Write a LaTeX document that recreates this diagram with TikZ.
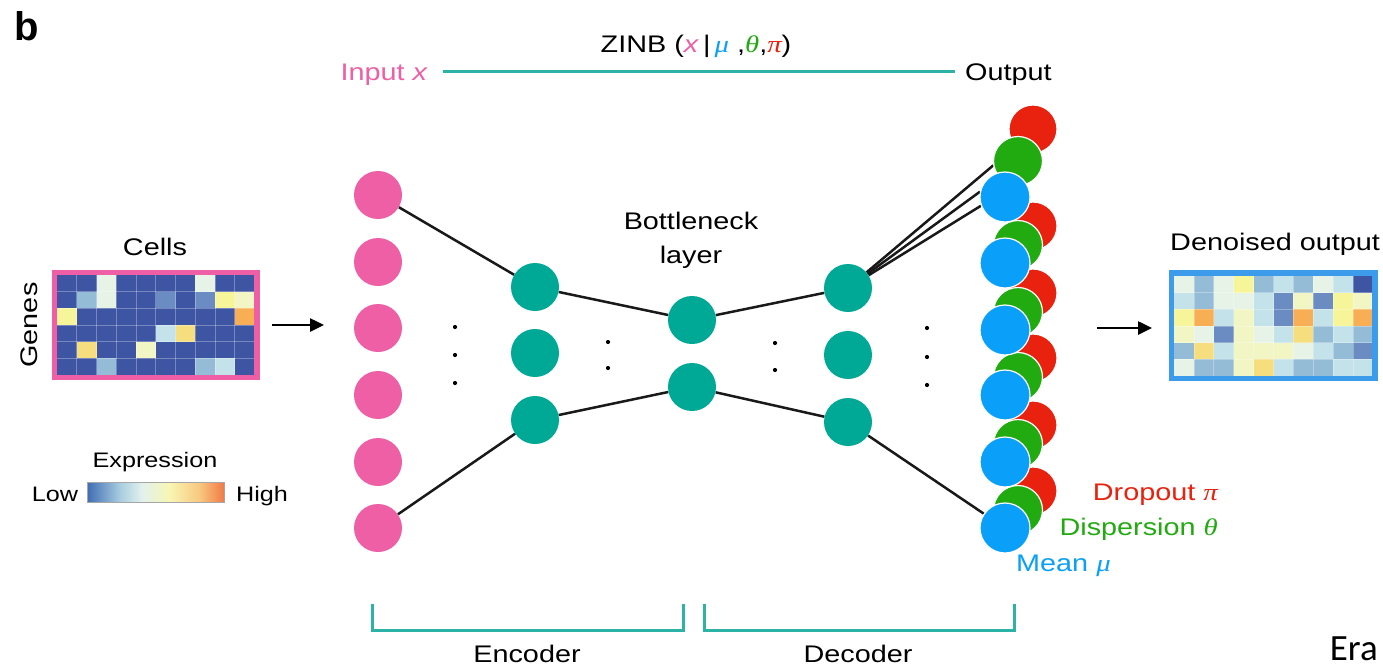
\documentclass[tikz,border=0pt]{standalone}
\usepackage{fontspec}
\setmainfont{Liberation Sans}[FakeStretch=1.2]
\newfontfamily\grk{Liberation Serif}[FakeStretch=1.2]
\newfontfamily\carl{Carlito}
\newfontfamily\boldsans{Liberation Sans Bold}
\usetikzlibrary{arrows.meta}
\newcommand{\myfs}[1]{\fontsize{#1}{#1}\selectfont}
\definecolor{cpink}{HTML}{EE5FA6}
\definecolor{cteal}{HTML}{00A896}
\definecolor{lteal}{HTML}{2DB3A6}
\definecolor{cred}{HTML}{E8220E}
\definecolor{cgreen}{HTML}{22AA11}
\definecolor{cblue}{HTML}{0AA0FA}
\definecolor{mapblue}{HTML}{3D9BEB}
\definecolor{hD}{HTML}{3D55A2}
\definecolor{hW}{HTML}{E6F3E6}
\definecolor{hL}{HTML}{95BCD6}
\definecolor{hM}{HTML}{6A8CC2}
\definecolor{hY}{HTML}{F7F59A}
\definecolor{hP}{HTML}{F2F5C4}
\definecolor{hO}{HTML}{F8AE55}
\definecolor{hC}{HTML}{C3E2EA}
\definecolor{hG}{HTML}{F6DE7E}
\definecolor{cb1}{HTML}{3F6CB3}
\definecolor{cb2}{HTML}{A8CCE0}
\definecolor{cb3}{HTML}{E2F1EE}
\definecolor{cb4}{HTML}{F8F6B4}
\definecolor{cb5}{HTML}{F8C880}
\definecolor{cb6}{HTML}{F27A45}
\pgfdeclarehorizontalshading{exprshade}{100bp}{color(0bp)=(cb1); color(25bp)=(cb1); color(37bp)=(cb2); color(45bp)=(cb3); color(55bp)=(cb4); color(66bp)=(cb5); color(75bp)=(cb6); color(100bp)=(cb6)}
\pgfdeclarelayer{bg}
\pgfdeclarelayer{paper}
\pgfsetlayers{paper,bg,main}
\tikzset{
  pinkc/.style={circle, fill=cpink, minimum size=48, inner sep=0},
  tealc/.style={circle, fill=cteal, minimum size=48, inner sep=0},
  outc/.style={circle, draw=white, line width=1.2, minimum size=50, inner sep=0},
  conn/.style={line width=2.5, black!90},
  lbl/.style={inner sep=0, font=\myfs{24}},
  brk/.style={lteal, line width=3},
  bigarrow/.style={line width=2.5, -{Triangle[length=14, width=13]}},
  gridl/.style={white, opacity=0.3, line width=0.7},
}
\begin{document}
\begin{tikzpicture}[x=1pt, y=-1pt]
\useasboundingbox (0,0) rectangle (1383,667);
\begin{pgfonlayer}{paper}
\fill[white] (0,0) rectangle (1383,667);
\end{pgfonlayer}

% panel letter
\node[inner sep=0, anchor=base west, font=\boldsans\myfs{40}] (panel) at (14,40) {b};

% ---------- input heatmap ----------
\foreach \row [count=\r from 0] in {{D,D,W,D,D,D,D,W,D,D},{D,L,W,D,D,M,D,M,Y,P},{Y,D,D,D,D,D,D,D,D,O},{D,D,D,D,D,C,G,D,D,D},{D,G,D,D,P,D,D,D,D,D},{D,D,L,D,D,D,D,L,C,D}}{
  \foreach \c [count=\k from 0] in \row {
    \fill[fill=h\c] ({57+19.75*\k},{275+16.67*\r}) rectangle ++(19.75,16.67);
  }
}
\foreach \k in {1,...,9} {\draw[gridl] ({57+19.75*\k},275) -- ++(0,100);}
\foreach \r in {1,...,5} {\draw[gridl] (57,{275+16.67*\r}) -- ++(197.5,0);}
\node[draw=cpink, line width=5.5, minimum width=202.5, minimum height=105, inner sep=0] (inmap) at (155.75,325) {};

\node[lbl, anchor=base] (cells) at (155,255) {Cells};
\node[lbl, anchor=base, rotate=90] (genes) at (37,325) {Genes};

% colour bar
\node[lbl, anchor=base, font=\myfs{21}] (expr) at (155,467) {Expression};
\shade[shading=exprshade] (87,482) rectangle (224,502);
\node[draw=black!35, line width=1, minimum width=137, minimum height=20, inner sep=0] (cbar) at (155.5,492) {};
\node[lbl, anchor=base, font=\myfs{21}] (low) at (55,501) {Low};
\node[lbl, anchor=base, font=\myfs{21}] (high) at (262,501) {High};

% arrows
\coordinate (a1s) at (272,325);
\coordinate (a1e) at (324,325);
\draw[bigarrow] (a1s) -- (a1e);
\coordinate (a2s) at (1097,328);
\coordinate (a2e) at (1152,328);
\draw[bigarrow] (a2s) -- (a2e);

% ---------- network ----------
\node[pinkc] (i1) at (378,195) {};
\node[pinkc] (i2) at (378,262) {};
\node[pinkc] (i3) at (378,328) {};
\node[pinkc] (i4) at (378,395) {};
\node[pinkc] (i5) at (378,462) {};
\node[pinkc] (i6) at (378,528) {};

\node[tealc] (e1) at (535,287) {};
\node[tealc] (e2) at (535,353) {};
\node[tealc] (e3) at (535,420) {};

\node[tealc] (bn1) at (692,320) {};
\node[tealc] (bn2) at (692,387) {};

\node[tealc] (dt1) at (848,288) {};
\node[tealc] (dt2) at (848,355) {};
\node[tealc] (dt3) at (848,422) {};

% output nodes: reds, greens, blues
\node[outc, fill=cred, minimum size=48] (r1) at (1033,129) {};
\node[outc, fill=cred, minimum size=48] (r2) at (1033,226) {};
\node[outc, fill=cred, minimum size=48] (r3) at (1033,293) {};
\node[outc, fill=cred, minimum size=48] (r4) at (1033,358) {};
\node[outc, fill=cred, minimum size=48] (r5) at (1033,425) {};
\node[outc, fill=cred, minimum size=48] (r6) at (1033,491) {};
\node[outc, fill=cgreen, minimum size=49] (g1) at (1018,161) {};
\node[outc, fill=cgreen, minimum size=49] (g2) at (1018,245) {};
\node[outc, fill=cgreen, minimum size=49] (g3) at (1018,312) {};
\node[outc, fill=cgreen, minimum size=49] (g4) at (1018,377) {};
\node[outc, fill=cgreen, minimum size=49] (g5) at (1018,444) {};
\node[outc, fill=cgreen, minimum size=49] (g6) at (1018,510) {};
\node[outc, fill=cblue] (b1) at (1005,197) {};
\node[outc, fill=cblue] (b2) at (1005,263) {};
\node[outc, fill=cblue] (b3) at (1005,330) {};
\node[outc, fill=cblue] (b4) at (1005,395) {};
\node[outc, fill=cblue] (b5) at (1005,462) {};
\node[outc, fill=cblue] (b6) at (1005,528) {};

\begin{pgfonlayer}{bg}
\draw[conn] (i1) -- (e1);
\draw[conn] (i6) -- (e3);
\draw[conn] (e1) -- (bn1);
\draw[conn] (e3) -- (bn2);
\draw[conn] (bn1) -- (dt1);
\draw[conn] (bn2) -- (dt3);
\draw[conn] (dt1) -- (g1.190);
\draw[conn] (dt1) -- (b1.168);
\draw[conn] (dt1) -- (b1.200);
\draw[conn] (dt3) -- (b6);
\end{pgfonlayer}

% dots
\foreach \y in {327,355,383} {\fill (455,\y) circle (2.1);}
\foreach \y in {342,368} {\fill (608,\y) circle (2.1);}
\foreach \y in {343,370} {\fill (775,\y) circle (2.1);}
\foreach \y in {328,357,385} {\fill (927,\y) circle (2.1);}

\node[lbl, anchor=base] (bneck) at (691,229) {Bottleneck};
\node[lbl, anchor=base] (blayer) at (691,263) {layer};

% ---------- top ZINB line ----------
\node[lbl, anchor=base] (zinb) at (696,52) {ZINB (\textcolor{cpink}{\textit{x}}\,|\,\textcolor{cblue}{\grk\itshape μ} ,\textcolor{cgreen}{\grk\itshape θ},\textcolor{cred}{\grk\itshape π})};
\node[lbl, anchor=base east, text=cpink] (inlbl) at (428,80) {Input \textit{x}};
\node[lbl, anchor=base west] (outlbl) at (965,80) {Output};
\coordinate (zl) at (443,71);
\coordinate (zr) at (955,71);
\draw[lteal, line width=3] (zl) -- (zr);

% ---------- output labels ----------
\node[lbl, anchor=base east, text=cred] (dropl) at (1218,500) {Dropout {\grk\itshape π}};
\node[lbl, anchor=base east, text=cgreen] (displ) at (1218,535) {Dispersion {\grk\itshape θ}};
\node[lbl, anchor=base west, text=cblue] (meanl) at (1016,571) {Mean {\grk\itshape μ}};

% ---------- output heatmap ----------
\foreach \row [count=\r from 0] in {{W,L,W,Y,L,C,L,W,C,D},{C,L,W,W,C,M,P,M,Y,P},{Y,O,C,P,C,M,O,C,Y,O},{P,W,M,P,W,C,G,L,C,L},{L,G,C,P,P,P,W,C,L,M},{W,L,L,P,G,C,L,L,C,C}}{
  \foreach \c [count=\k from 0] in \row {
    \fill[fill=h\c] ({1174+19.9*\k},{276+16.67*\r}) rectangle ++(19.9,16.67);
  }
}
\foreach \k in {1,...,9} {\draw[gridl] ({1174+19.9*\k},276) -- ++(0,100);}
\foreach \r in {1,...,5} {\draw[gridl] (1174,{276+16.67*\r}) -- ++(199,0);}
\node[draw=mapblue, line width=5.5, minimum width=203.7, minimum height=105.7, inner sep=0] (outmap) at (1273.35,325.85) {};
\node[lbl, anchor=base west] (denl) at (1170,250) {Denoised output};

% ---------- brackets ----------
\coordinate (eb1) at (372,604);
\coordinate (eb2) at (372,630);
\coordinate (eb3) at (683,630);
\coordinate (eb4) at (683,604);
\draw[brk] (eb1) -- (eb2) -- (eb3) -- (eb4);
\coordinate (db1) at (704,604);
\coordinate (db2) at (704,630);
\coordinate (db3) at (1014,630);
\coordinate (db4) at (1014,604);
\draw[brk] (db1) -- (db2) -- (db3) -- (db4);
\node[lbl, anchor=base] (encl) at (527,662) {Encoder};
\node[lbl, anchor=base] (decl) at (858,662) {Decoder};

\node[inner sep=0, anchor=base east, font=\carl\myfs{37}] (era) at (1378,660) {Era};
\end{tikzpicture}
\end{document}
